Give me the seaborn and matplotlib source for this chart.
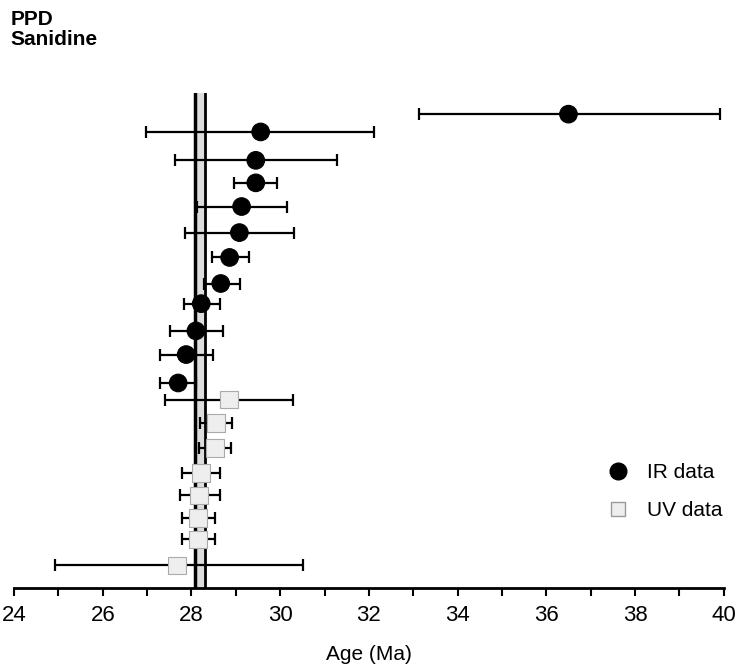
import pandas as pd
import seaborn as sns
import matplotlib.pyplot as plt
from matplotlib.lines import Line2D
from matplotlib.ticker import MultipleLocator

sns.set_theme(style="white")
plt.rcParams['font.family'] = ['Liberation Sans', 'DejaVu Sans']
plt.rcParams['text.color'] = 'black'
plt.rcParams['axes.labelcolor'] = 'black'
plt.rcParams['xtick.color'] = 'black'

# Dados (idade em Ma, limites da barra de erro)
ir_pos = [20.0, 19.25, 18.05, 17.1, 16.1, 15.0, 13.95, 12.85, 12.0, 10.85, 9.85, 8.65]
ir_age = [36.50, 29.56, 29.45, 29.45, 29.13, 29.08, 28.86, 28.66, 28.22, 28.10, 27.88, 27.70]
ir_low = [33.12, 26.98, 27.63, 28.95, 28.12, 27.85, 28.46, 28.28, 27.83, 27.52, 27.29, 27.29]
ir_high = [39.91, 32.11, 31.28, 29.92, 30.16, 30.32, 29.29, 29.09, 28.64, 28.71, 28.48, 28.10]

uv_pos = [7.95, 6.95, 5.9, 4.85, 3.9, 2.95, 2.05, 0.95]
uv_age = [28.84, 28.55, 28.53, 28.22, 28.17, 28.15, 28.15, 27.68]
uv_low = [27.41, 28.19, 28.17, 27.79, 27.74, 27.79, 27.79, 24.92]
uv_high = [30.30, 28.91, 28.89, 28.64, 28.64, 28.53, 28.53, 30.52]

# idades médias (linhas verticais)
media_ir = 28.08
media_uv = 28.30

ir = pd.DataFrame({"pos": ir_pos, "idade": ir_age, "low": ir_low, "high": ir_high})
ir["grupo"] = "IR data"
uv = pd.DataFrame({"pos": uv_pos, "idade": uv_age, "low": uv_low, "high": uv_high})
uv["grupo"] = "UV data"
tabela = pd.concat([ir, uv], ignore_index=True)

fig = plt.figure(figsize=(7.4, 6.68), dpi=100)
ax = fig.add_axes([0.019, 0.12, 0.959, 0.741])

# faixa das médias
ax.axvspan(media_ir, media_uv, color="#dddddd", zorder=1)
ax.axvline(media_ir, color="black", lw=2.5, zorder=2)
ax.axvline(media_uv, color="black", lw=2.0, zorder=2)

ax.errorbar(tabela["idade"], tabela["pos"],
            xerr=[tabela["idade"] - tabela["low"], tabela["high"] - tabela["idade"]],
            fmt="none", ecolor="black", elinewidth=1.6, capsize=4, capthick=1.6, zorder=3)

sns.scatterplot(data=tabela, x="idade", y="pos", hue="grupo", style="grupo",
                markers={"IR data": "o", "UV data": "s"},
                palette={"IR data": "black", "UV data": "#eeeeee"},
                s=160, linewidth=0.8, edgecolor=["black"] * len(ir) + ["#aaaaaa"] * len(uv),
                legend=False, zorder=4, ax=ax)

ax.set_xlim(24, 40)
ax.set_ylim(0, 20.9)
ax.xaxis.set_major_locator(MultipleLocator(2))
ax.xaxis.set_minor_locator(MultipleLocator(1))
ax.tick_params(axis="x", which="both", direction="out", length=6, width=1.5,
               bottom=True, pad=6, labelsize=16)
ax.set_yticks([])
ax.set_ylabel("")
ax.set_xlabel("Age (Ma)", fontsize=15, labelpad=14)
for lado in ["left", "right", "top"]:
    ax.spines[lado].set_visible(False)
ax.spines["bottom"].set_linewidth(2)
ax.spines["bottom"].set_color("black")

handles = [
    Line2D([], [], marker="o", ls="none", color="black", markersize=12),
    Line2D([], [], marker="s", ls="none", markerfacecolor="#eeeeee",
           markeredgecolor="#999999", markersize=10),
]
ax.legend(handles, ["IR data", "UV data"], loc="upper left",
          bbox_to_anchor=(0.795, 0.29), frameon=False, fontsize=15,
          handletextpad=0.4, labelspacing=0.9)

fig.text(0.014, 0.985, "PPD\nSanidine", fontsize=15, fontweight="bold",
         va="top", ha="left", linespacing=1.05)

fig.savefig("out.png", dpi=100)
